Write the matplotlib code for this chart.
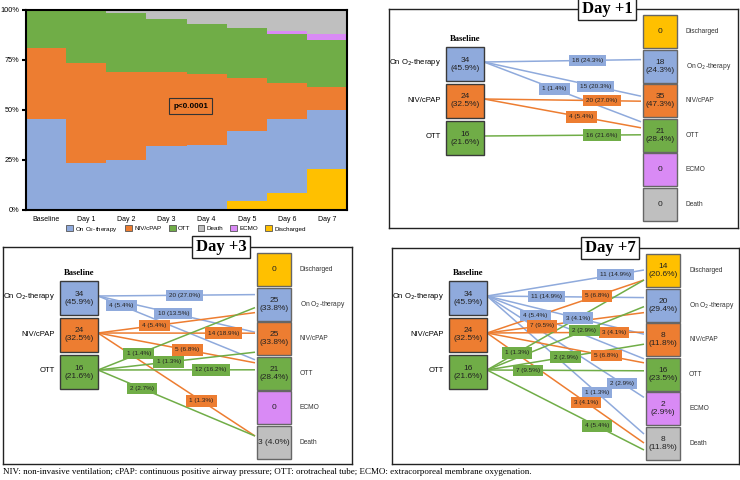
import matplotlib.pyplot as plt
from matplotlib.patches import Rectangle, Patch

BLUE = '#8FAADC'
ORANGE = '#ED7D31'
GREEN = '#70AD47'
GREY = '#BFBFBF'
PURPLE = '#D98AF5'
YELLOW = '#FFC000'

# stacked chart (% of patients per state)
days = ['Baseline', 'Day 1', 'Day 2', 'Day 3', 'Day 4', 'Day 5', 'Day 6', 'Day 7']
discharged = [0, 0, 0, 0, 0, 4.5, 8.5, 20.5]
on_o2 = [45.5, 23.5, 25, 32, 32.5, 35, 37, 29.5]
niv = [35.5, 50, 44, 37, 35.5, 26.5, 18, 11.5]
ott = [19, 26.5, 29.5, 26.5, 25, 25, 24.5, 23.5]
ecmo = [0, 0, 0, 0, 0, 0, 1.5, 3]
death = [0, 0, 1.5, 4.5, 7, 9, 10.5, 12]

# flow panels
left_states = ['On O$_2$-therapy', 'NIV/cPAP', 'OTT']
left_text = ['34\n(45.9%)', '24\n(32.5%)', '16\n(21.6%)']
right_states = ['Discharged', 'On O$_2$-therapy', 'NIV/cPAP', 'OTT', 'ECMO', 'Death']

day1_right = ['0', '18\n(24.3%)', '35\n(47.3%)', '21\n(28.4%)', '0', '0']
day1_src = [0, 0, 0, 1, 1, 2]
day1_tgt = [1, 2, 3, 2, 3, 3]
day1_n = [18, 15, 1, 20, 4, 16]
day1_pct = [24.3, 20.3, 1.4, 27.0, 5.4, 21.6]

day3_right = ['0', '25\n(33.8%)', '25\n(33.8%)', '21\n(28.4%)', '0', '3 (4.0%)']
day3_src = [0, 0, 0, 1, 1, 1, 1, 2, 2, 2, 2]
day3_tgt = [1, 2, 3, 1, 2, 3, 5, 1, 2, 3, 5]
day3_n = [20, 10, 4, 4, 14, 5, 1, 1, 1, 12, 2]
day3_pct = [27.0, 13.5, 5.4, 5.4, 18.9, 6.8, 1.3, 1.4, 1.3, 16.2, 2.7]

day7_right = ['14\n(20.6%)', '20\n(29.4%)', '8\n(11.8%)', '16\n(23.5%)', '2\n(2.9%)', '8\n(11.8%)']
day7_src = [0, 0, 0, 0, 0, 0, 1, 1, 1, 1, 1, 2, 2, 2, 2, 2]
day7_tgt = [0, 1, 2, 3, 4, 5, 0, 1, 2, 3, 5, 0, 1, 2, 3, 5]
day7_n = [11, 11, 3, 4, 2, 1, 5, 7, 3, 5, 3, 1, 2, 2, 7, 4]
day7_pct = [14.9, 14.9, 4.1, 5.4, 2.9, 1.3, 6.8, 9.5, 4.1, 6.8, 4.1, 1.3, 2.9, 2.9, 9.5, 5.4]

# layout: where each line enters its target box, and where its label sits along it
day1_off = [10, 12, 3, 17, 9, 16]
day1_t = [0.66, 0.71, 0.45, 0.75, 0.62, 0.75]
day3_off = [7, 10, 3, 25, 11, 6, 10, 20, 30, 13, 10]
day3_t = [0.55, 0.48, 0.15, 0.36, 0.80, 0.57, 0.66, 0.26, 0.45, 0.72, 0.28]
day7_off = [16, 9, 11, 1, 5, 7, 26, 24, 9, 5, 16, 26, 18, 21, 13, 23]
day7_t = [0.82, 0.38, 0.58, 0.31, 0.86, 0.70, 0.70, 0.35, 0.81, 0.76, 0.63, 0.19, 0.62, 0.50, 0.26, 0.70]

W, H = 740, 480
fig = plt.figure(figsize=(W / 100, H / 100), dpi=100)
plt.rcParams['font.family'] = ['Liberation Sans', 'DejaVu Sans']
SERIF = 'Liberation Serif'

# ---------- stacked step chart ----------
ax = fig.add_axes([26 / W, 1 - 210 / H, 321 / W, 200 / H])
x = range(len(days))
bottom = [0] * len(days)
series = [(discharged, YELLOW), (on_o2, BLUE), (niv, ORANGE), (ott, GREEN), (ecmo, PURPLE), (death, GREY)]
for vals, col in series:
    ax.bar(x, vals, width=1.0, bottom=bottom, color=col, linewidth=0)
    bottom = [b + v for b, v in zip(bottom, vals)]
ax.set_xlim(-0.5, len(days) - 0.5)
ax.set_ylim(0, 100)
ax.set_yticks([0, 25, 50, 75, 100])
ax.set_yticklabels(['0%', '25%', '50%', '75%', '100%'], fontsize=5.3)
ax.set_xticks(list(x))
ax.set_xticklabels(days, fontsize=5)
ax.tick_params(axis='x', length=0, pad=4)
ax.tick_params(axis='y', length=3, width=1.5, pad=2)
for s in ax.spines.values():
    s.set_linewidth(1.5)
    s.set_color('black')
ax.text(3.6, 52, 'p<0.0001', fontsize=5.8, fontweight='bold', ha='center', va='center',
        bbox=dict(boxstyle='square,pad=0.5', facecolor='none', edgecolor='#333333', linewidth=0.8))
handles = [Patch(facecolor=c, edgecolor='#555555', linewidth=0.6) for c in [BLUE, ORANGE, GREEN, GREY, PURPLE, YELLOW]]
fig.legend(handles, ['On O$_2$-therapy', 'NIV/cPAP', 'OTT', 'Death', 'ECMO', 'Discharged'],
           loc='center', bbox_to_anchor=(186 / W, 1 - 229 / H), ncol=6, fontsize=4.5, frameon=False,
           handlelength=1.1, handleheight=1.1, handletextpad=0.3, columnspacing=1.2)

# ---------- flow panels ----------
state_col = [YELLOW, BLUE, ORANGE, GREEN, PURPLE, GREY]
left_col = [BLUE, ORANGE, GREEN]
LX0, LX1 = 57, 95
RX0, RX1 = 254, 288
BH = 33
RTOP, RSTEP = 6, 34.6


def draw_panel(rect, title, left_top, right_text, src, tgt, n, pct, off, tpos):
    x0, y0, w, h = rect
    ax = fig.add_axes([x0 / W, 1 - (y0 + h) / H, w / W, h / H])
    ax.set_xlim(0, w)
    ax.set_ylim(h, 0)
    ax.set_xticks([])
    ax.set_yticks([])
    for s in ax.spines.values():
        s.set_linewidth(1.0)
        s.set_color('#222222')

    ltops = [left_top + i * 37 for i in range(3)]
    rtops = [RTOP + j * RSTEP for j in range(6)]

    ax.text((LX0 + LX1) / 2, left_top - 8, 'Baseline', family=SERIF, fontweight='bold',
            fontsize=6.2, ha='center', va='center')
    for i in range(3):
        ax.add_patch(Rectangle((LX0, ltops[i]), LX1 - LX0, 34, facecolor=left_col[i],
                               edgecolor='#3a3a3a', linewidth=1.0, zorder=3))
        ax.text((LX0 + LX1) / 2, ltops[i] + 17, left_text[i], fontsize=6, ha='center',
                va='center', color='#222222', zorder=4, linespacing=1.2)
        ax.text(52, ltops[i] + 16, left_states[i], fontsize=5.5, ha='right', va='center')
    for j in range(6):
        ax.add_patch(Rectangle((RX0, rtops[j]), RX1 - RX0, BH, facecolor=state_col[j],
                               edgecolor='#666666', linewidth=1.0, zorder=3))
        ax.text((RX0 + RX1) / 2, rtops[j] + BH / 2, right_text[j], fontsize=6, ha='center',
                va='center', color='#222222', zorder=4, linespacing=1.2)
        ax.text(297, rtops[j] + BH / 2, right_states[j], fontsize=4.8, ha='left', va='center',
                color='#333333')

    for k in range(len(src)):
        col = left_col[src[k]]
        xa, ya = LX1, ltops[src[k]] + 15
        xb, yb = RX0 - 2, rtops[tgt[k]] + off[k]
        ax.plot([xa, xb], [ya, yb], color=col, linewidth=1.1, zorder=1, solid_capstyle='butt')
        t = tpos[k]
        ax.text(xa + t * (xb - xa), ya + t * (yb - ya), f'{n[k]} ({pct[k]:.1f}%)', fontsize=4.6,
                ha='center', va='center', color='#222222', zorder=2,
                bbox=dict(boxstyle='square,pad=0.5', facecolor=col, edgecolor='none'))

    ax.text(218, 0, title, family=SERIF, fontweight='bold', fontsize=12, ha='center',
            va='center', zorder=5, clip_on=False,
            bbox=dict(boxstyle='square,pad=0.2', facecolor='white', edgecolor='#222222', linewidth=1.0))


draw_panel((389, 9, 349, 219), 'Day +1', 38, day1_right, day1_src, day1_tgt, day1_n, day1_pct, day1_off, day1_t)
draw_panel((3, 247, 349, 217), 'Day +3', 34, day3_right, day3_src, day3_tgt, day3_n, day3_pct, day3_off, day3_t)
draw_panel((392, 248, 347, 216), 'Day +7', 33, day7_right, day7_src, day7_tgt, day7_n, day7_pct, day7_off, day7_t)

fig.text(3 / W, 1 - 472 / H, 'NIV: non-invasive ventilation; cPAP: continuous positive airway pressure; '
         'OTT: orotracheal tube; ECMO: extracorporeal membrane oxygenation.',
         family=SERIF, fontsize=6.5, ha='left', va='center')

fig.savefig('out.png', dpi=100)
